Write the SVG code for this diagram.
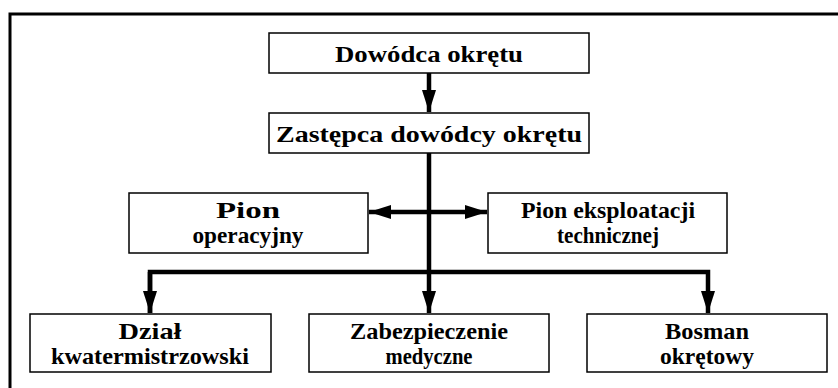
<svg xmlns="http://www.w3.org/2000/svg" width="838" height="388" viewBox="0 0 838 388">
<style>
.box{fill:#fff;stroke:#000;stroke-width:1.5}
.t{font-family:"Liberation Serif","Times New Roman",serif;font-weight:bold;font-size:24px;text-anchor:middle;fill:#000}
.ln{stroke:#000;stroke-width:4.5;fill:none}
</style>
<defs>
<marker id="ah" viewBox="0 0 22 16" refX="22" refY="8" markerWidth="22" markerHeight="16" markerUnits="userSpaceOnUse" orient="auto">
<path d="M0,1 L22,8 L0,15 Z" fill="#000"/>
</marker>
</defs>
<rect width="838" height="388" fill="#fff"/>
<path d="M10,388 V14 H838" fill="none" stroke="#000" stroke-width="3"/>
<g id="connectors">
<path class="ln" d="M429,73 V112" marker-end="url(#ah)"/>
<path class="ln" d="M429,153 V272"/>
<path class="ln" d="M429,212 H369" marker-end="url(#ah)"/>
<path class="ln" d="M429,212 H487" marker-end="url(#ah)"/>
<path class="ln" d="M150,313 V272 H708 V313" marker-end="url(#ah)"/>
<path class="ln" d="M150,272 V313" marker-end="url(#ah)"/>
<path class="ln" d="M429,272 V313" marker-end="url(#ah)"/>
</g>
<g id="n1">
<rect class="box" x="269" y="33" width="320" height="40"/>
<text class="t" x="429" y="62" textLength="188" lengthAdjust="spacingAndGlyphs">Dowódca okrętu</text>
</g>
<g id="n2">
<rect class="box" x="269" y="113" width="320" height="40"/>
<text class="t" x="429" y="142" textLength="306" lengthAdjust="spacingAndGlyphs">Zastępca dowódcy okrętu</text>
</g>
<g id="n3">
<rect class="box" x="129" y="193" width="239" height="60"/>
<text class="t" x="248" y="218" textLength="64" lengthAdjust="spacingAndGlyphs">Pion</text>
<text class="t" x="248" y="243" textLength="111" lengthAdjust="spacingAndGlyphs">operacyjny</text>
</g>
<g id="n4">
<rect class="box" x="488" y="193" width="239" height="60"/>
<text class="t" x="608" y="218" textLength="174" lengthAdjust="spacingAndGlyphs">Pion eksploatacji</text>
<text class="t" x="608" y="243" textLength="102" lengthAdjust="spacingAndGlyphs">technicznej</text>
</g>
<g id="n5">
<rect class="box" x="30" y="314" width="241" height="58"/>
<text class="t" x="150" y="339" textLength="63" lengthAdjust="spacingAndGlyphs">Dział</text>
<text class="t" x="150" y="364" textLength="198" lengthAdjust="spacingAndGlyphs">kwatermistrzowski</text>
</g>
<g id="n6">
<rect class="box" x="309" y="314" width="240" height="58"/>
<text class="t" x="429" y="339" textLength="158" lengthAdjust="spacingAndGlyphs">Zabezpieczenie</text>
<text class="t" x="429" y="364" textLength="87" lengthAdjust="spacingAndGlyphs">medyczne</text>
</g>
<g id="n7">
<rect class="box" x="587" y="314" width="240" height="58"/>
<text class="t" x="707" y="339" textLength="84" lengthAdjust="spacingAndGlyphs">Bosman</text>
<text class="t" x="707" y="364" textLength="94" lengthAdjust="spacingAndGlyphs">okrętowy</text>
</g>
</svg>
